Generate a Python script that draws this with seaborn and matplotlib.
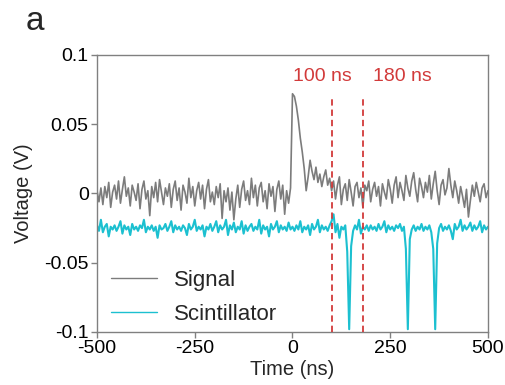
import numpy as np
import pandas as pd
import matplotlib
matplotlib.use("Agg")
import matplotlib.pyplot as plt
import seaborn as sns

# ---- data ----
time_start, time_step = -500, 5
signal_v = [
    0.002, -0.006, 0.004, -0.008, 0.005, -0.003, 0.008, -0.010, 0.001, 0.006,
    -0.004, 0.009, -0.007, 0.003, 0.012, -0.002, 0.004, -0.009, 0.006, 0.001,
    -0.005, 0.007, -0.011, 0.003, 0.009, -0.004, 0.002, -0.016, 0.005, -0.003,
    0.008, -0.006, 0.010, 0.001, -0.008, 0.004, -0.002, 0.007, -0.010, 0.003,
    0.009, -0.005, 0.004, -0.012, 0.006, 0.001, -0.007, 0.011, -0.003, 0.005,
    -0.009, 0.002, 0.008, -0.004, 0.006, -0.011, 0.003, 0.010, -0.006, 0.001,
    -0.008, 0.005, -0.003, 0.007, -0.018, 0.002, -0.006, 0.004, -0.012, 0.001,
    -0.019, -0.004, 0.006, -0.010, 0.003, 0.009, -0.005, 0.002, -0.008, 0.011,
    -0.003, 0.006, -0.009, 0.004, 0.008, -0.006, 0.002, -0.011, 0.007, -0.002,
    0.005, -0.013, 0.003, 0.009, -0.004, 0.006, -0.015, 0.002, -0.007, 0.004,
    0.072, 0.070, 0.063, 0.053, 0.040, 0.030, 0.018, 0.002, 0.012, 0.024,
    0.016, 0.010, 0.019, 0.008, 0.014, 0.005, 0.012, 0.017, 0.006, 0.011,
    0.002, 0.009, -0.004, 0.006, 0.012, -0.008, 0.003, 0.007, -0.005, 0.010,
    0.001, -0.009, 0.005, 0.008, -0.003, 0.004, -0.010, 0.006, 0.002, 0.009,
    -0.006, 0.003, 0.008, -0.002, 0.005, -0.009, 0.007, 0.001, -0.004, 0.010,
    0.003, -0.007, 0.006, 0.012, -0.003, 0.008, 0.002, -0.005, 0.013, 0.004,
    -0.002, 0.009, 0.015, 0.003, -0.006, 0.011, 0.005, -0.003, 0.008, 0.001,
    0.013, -0.004, 0.007, 0.016, 0.002, -0.008, 0.006, 0.010, -0.001, 0.004,
    0.018, 0.006, -0.003, 0.009, 0.002, -0.007, 0.005, -0.002, -0.010, 0.003,
    -0.017, -0.005, 0.006, -0.002, 0.008, 0.001, -0.006, 0.004, 0.007, -0.003,
    0.002,
]
scint_v = [
    -0.023, -0.027, -0.019, -0.028, -0.024, -0.022, -0.031, -0.024, -0.026, -0.023,
    -0.027, -0.024, -0.020, -0.029, -0.023, -0.026, -0.024, -0.030, -0.022, -0.026,
    -0.024, -0.027, -0.023, -0.025, -0.019, -0.028, -0.024, -0.026, -0.023, -0.027,
    -0.024, -0.032, -0.023, -0.026, -0.025, -0.022, -0.027, -0.024, -0.020, -0.028,
    -0.023, -0.026, -0.024, -0.027, -0.023, -0.025, -0.030, -0.022, -0.026, -0.024,
    -0.019, -0.027, -0.024, -0.026, -0.023, -0.031, -0.024, -0.026, -0.022, -0.027,
    -0.024, -0.020, -0.028, -0.023, -0.026, -0.024, -0.019, -0.030, -0.023, -0.026,
    -0.021, -0.028, -0.024, -0.026, -0.020, -0.029, -0.023, -0.027, -0.024, -0.022,
    -0.027, -0.024, -0.026, -0.019, -0.029, -0.023, -0.026, -0.024, -0.031, -0.022,
    -0.026, -0.024, -0.020, -0.028, -0.023, -0.026, -0.024, -0.027, -0.021, -0.026,
    -0.024, -0.027, -0.023, -0.026, -0.020, -0.028, -0.024, -0.026, -0.023, -0.030,
    -0.022, -0.026, -0.024, -0.019, -0.028, -0.023, -0.026, -0.024, -0.027, -0.023,
    -0.020, -0.015, -0.028, -0.022, -0.032, -0.024, -0.026, -0.023, -0.042, -0.098,
    -0.038, -0.027, -0.023, -0.026, -0.019, -0.029, -0.024, -0.026, -0.023, -0.027,
    -0.023, -0.026, -0.024, -0.027, -0.022, -0.026, -0.024, -0.020, -0.028, -0.023,
    -0.026, -0.024, -0.027, -0.023, -0.025, -0.022, -0.027, -0.024, -0.040, -0.098,
    -0.033, -0.026, -0.023, -0.027, -0.024, -0.026, -0.022, -0.027, -0.024, -0.026,
    -0.023, -0.028, -0.040, -0.098, -0.036, -0.025, -0.022, -0.027, -0.024, -0.026,
    -0.023, -0.027, -0.033, -0.022, -0.026, -0.024, -0.019, -0.027, -0.023, -0.026,
    -0.024, -0.021, -0.027, -0.023, -0.026, -0.024, -0.020, -0.028, -0.023, -0.026,
    -0.024,
]
series_names = ["Signal", "Scintillator"]
series_colors = ["#7c7c7c", "#1cc0d0"]
marker_times = [100, 180]
marker_labels = ["100 ns", "180 ns"]
x_ticks = [-500, -250, 0, 250, 500]
x_ticklabels = ["-500", "-250", "0", "250", "500"]
y_ticks = [-0.1, -0.05, 0, 0.05, 0.1]
y_ticklabels = ["-0.1", "-0.05", "0", "0.05", "0.1"]

n = len(signal_v)
time_ns = [time_start + time_step * i for i in range(n)]
df = pd.DataFrame({
    "Time": time_ns + time_ns,
    "Voltage": signal_v + scint_v,
    "Series": [series_names[0]] * n + [series_names[1]] * n,
})

# ---- style ----
sns.set_style("ticks")
plt.rcParams["font.family"] = ["Liberation Sans", "DejaVu Sans"]

fig = plt.figure(figsize=(5.06, 3.85), dpi=100)
ax = fig.add_axes([0.1917, 0.1377, 0.7727, 0.7195])

sns.lineplot(data=df, x="Time", y="Voltage", hue="Series",
             palette=dict(zip(series_names, series_colors)),
             linewidth=1.2, ax=ax, sort=False, estimator=None)
ax.get_lines()[1].set_linewidth(1.5)

red = "#d23a3a"
for t in marker_times:
    ax.plot([t, t], [-0.1, 0.068], color=red, lw=1.3, ls=(0, (3.5, 2.2)), zorder=3)
ax.text(77, 0.0845, marker_labels[0], color=red, fontsize=14, ha="center", va="center")
ax.text(281, 0.0845, marker_labels[1], color=red, fontsize=14, ha="center", va="center")

ax.set_xlim(-500, 500)
ax.set_ylim(-0.1, 0.1)
ax.set_xticks(x_ticks)
ax.set_xticklabels(x_ticklabels)
ax.set_yticks(y_ticks)
ax.set_yticklabels(y_ticklabels)
ax.tick_params(axis="both", labelsize=14, colors="#808080", labelcolor="black",
               length=4, width=1, pad=2, direction="out")
for sp in ax.spines.values():
    sp.set_visible(True)
    sp.set_color("#808080")
    sp.set_linewidth(1.0)

ax.set_xlabel("Time (ns)", fontsize=14.5, labelpad=2)
ax.set_ylabel("Voltage (V)", fontsize=14.5, labelpad=8)

handles, labels = ax.get_legend_handles_labels()
leg = ax.legend(handles, labels, loc="lower left", bbox_to_anchor=(0.035, 0.025),
                frameon=False, fontsize=16, handlelength=2.1, handletextpad=0.75,
                labelspacing=0.58, borderpad=0, borderaxespad=0)
for h in leg.get_lines():
    h.set_linewidth(1.0)

fig.text(0.05, 0.985, "a", fontsize=24, ha="left", va="top")

fig.savefig("out.png", dpi=100)
